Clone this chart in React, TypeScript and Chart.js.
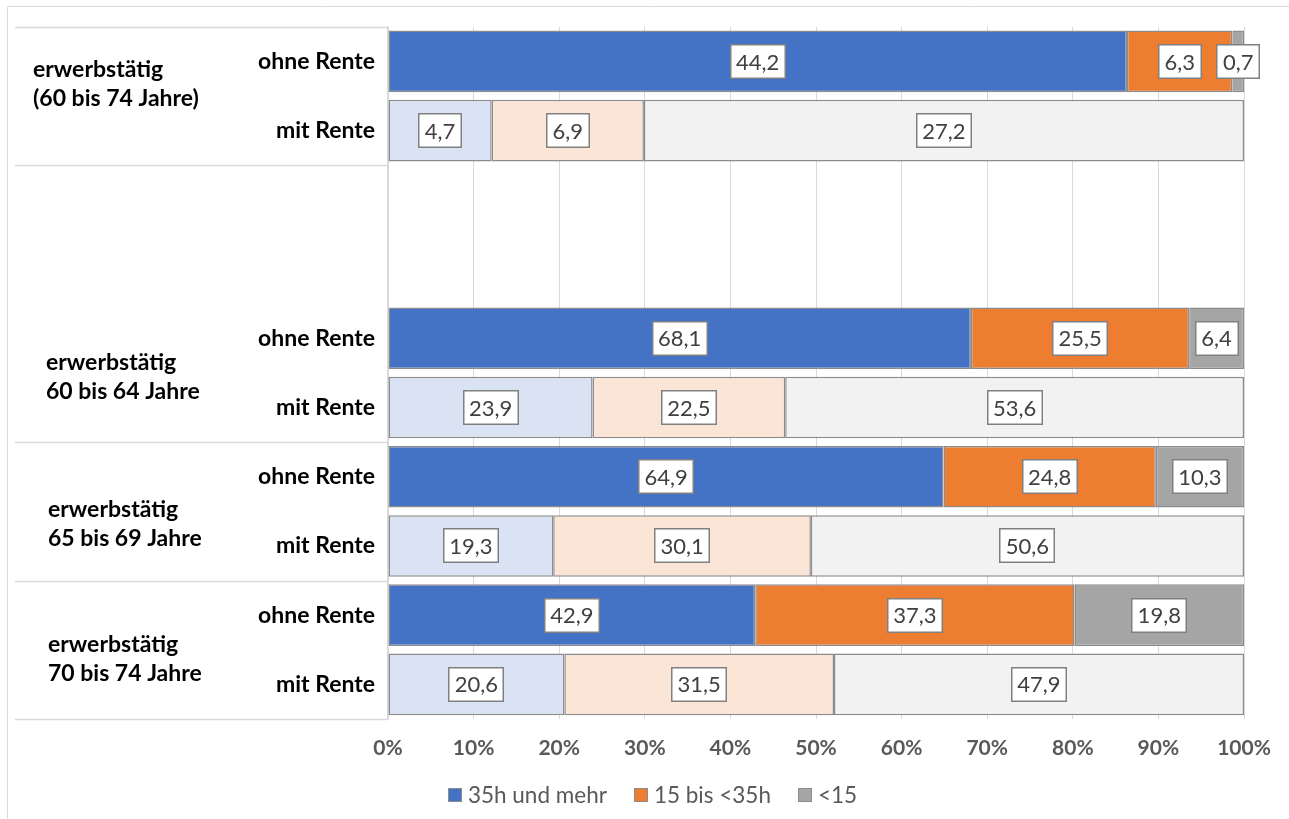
import { useEffect, useRef } from 'react';
import { Chart, registerables } from 'chart.js';

Chart.register(...registerables);

// Rows of the chart, top to bottom (two blank rows keep the gap under the first block)
const rowLabels = ['ohne Rente', 'mit Rente', '', '', 'ohne Rente', 'mit Rente', 'ohne Rente', 'mit Rente', 'ohne Rente', 'mit Rente'];

// Weekly working hours, values per row
const hours35Plus = [44.2, 4.7, null, null, 68.1, 23.9, 64.9, 19.3, 42.9, 20.6];
const hours15to35 = [6.3, 6.9, null, null, 25.5, 22.5, 24.8, 30.1, 37.3, 31.5];
const hoursUnder15 = [0.7, 27.2, null, null, 6.4, 53.6, 10.3, 50.6, 19.8, 47.9];

const seriesNames = ['35h und mehr', '15 bis <35h', '<15'];

// Group captions on the left and the first row each one belongs to
const groupTitles = [
  ['erwerbstätig', '(60 bis 74 Jahre)'],
  ['erwerbstätig', '60 bis 64 Jahre'],
  ['erwerbstätig', '65 bis 69 Jahre'],
  ['erwerbstätig', '70 bis 74 Jahre'],
];
const groupFirstRow = [0, 4, 6, 8];
// Row boundaries where the left caption column gets a divider
const dividerRows = [0, 2, 6, 8, 10];

const darkColors = ['#4472C4', '#ED7D31', '#A5A5A5'];
const lightColors = ['#DAE3F3', '#FBE5D6', '#F2F2F2'];

// Caption placement tweaks (x start, vertical nudge)
const captionX = [33, 46, 48, 48];
const captionDy = [-12, 4, 13, 9];

const FONT = 'Lato, "Open Sans", sans-serif';

export default function App() {
  const canvasRef = useRef<HTMLCanvasElement>(null);

  useEffect(() => {
    let chart: Chart | null = null;
    let cancelled = false;
    const series = [hours35Plus, hours15to35, hoursUnder15];

    const totals = rowLabels.map((_, i) => {
      const vals = series.map((s) => s[i]);
      if (vals.some((v) => v == null)) return null;
      return (vals as number[]).reduce((a, b) => a + b, 0);
    });
    const toShare = (vals: (number | null)[]) =>
      vals.map((v, i) => (v == null || totals[i] == null ? null : (v / (totals[i] as number)) * 100));

    const decorations = {
      id: 'decorations',
      beforeDraw(c: Chart) {
        const ctx = c.ctx;
        ctx.save();
        ctx.strokeStyle = '#d9d9d9';
        ctx.lineWidth = 1;
        ctx.beginPath();
        ctx.moveTo(7.5, 6.5);
        ctx.lineTo(c.width, 6.5);
        ctx.moveTo(7.5, 6.5);
        ctx.lineTo(7.5, c.height);
        ctx.stroke();
        ctx.restore();
      },
      afterDraw(c: Chart) {
        const ctx = c.ctx;
        const y = c.scales.y;
        const left = c.chartArea.left;
        ctx.save();
        // dividers in the caption column
        ctx.strokeStyle = '#d9d9d9';
        ctx.lineWidth = 1.5;
        ctx.beginPath();
        dividerRows.forEach((r) => {
          const py = Math.round(y.getPixelForValue(r - 0.5)) + 0.5;
          ctx.moveTo(15, py);
          ctx.lineTo(left, py);
        });
        ctx.stroke();
        // group captions
        ctx.fillStyle = '#000';
        ctx.font = `bold 23px ${FONT}`;
        ctx.textAlign = 'left';
        ctx.textBaseline = 'middle';
        groupTitles.forEach((lines, g) => {
          const r = groupFirstRow[g];
          const cy = (y.getPixelForValue(r) + y.getPixelForValue(r + 1)) / 2 + captionDy[g];
          ctx.fillText(lines[0], captionX[g], cy - 14.5);
          ctx.fillText(lines[1], captionX[g], cy + 14.5);
        });
        // legend
        ctx.font = `22.5px ${FONT}`;
        const box = 14;
        const gap = 6;
        const spacing = 27;
        const widths = seriesNames.map((n) => ctx.measureText(n).width);
        const total = widths.reduce((a, w) => a + box + gap + w, 0) + spacing * (seriesNames.length - 1);
        let lx = c.width / 2 + 8 - total / 2;
        const ly = 795;
        seriesNames.forEach((n, i) => {
          ctx.fillStyle = darkColors[i];
          ctx.fillRect(Math.round(lx), ly - box / 2, box, box);
          ctx.strokeStyle = '#8c8c8c';
          ctx.lineWidth = 1;
          ctx.strokeRect(Math.round(lx) + 0.5, ly - box / 2 + 0.5, box - 1, box - 1);
          ctx.fillStyle = '#595959';
          ctx.fillText(n, lx + box + gap, ly + 1);
          lx += box + gap + widths[i] + spacing;
        });
        ctx.restore();
      },
      afterDatasetsDraw(c: Chart) {
        const ctx = c.ctx;
        ctx.save();
        ctx.font = `22px ${FONT}`;
        ctx.textAlign = 'center';
        ctx.textBaseline = 'middle';
        c.data.datasets.forEach((_, di) => {
          const meta = c.getDatasetMeta(di);
          meta.data.forEach((el: any, i: number) => {
            const v = series[di][i];
            if (v == null) return;
            const { x, y } = el.getCenterPoint();
            const text = v.toFixed(1).replace('.', ',');
            const w = Math.round(ctx.measureText(text).width + 13);
            const h = 35;
            const bx = Math.round(x - w / 2);
            const by = Math.round(y - h / 2);
            ctx.fillStyle = '#ffffff';
            ctx.fillRect(bx, by, w, h);
            ctx.strokeStyle = '#808080';
            ctx.lineWidth = 1.5;
            ctx.strokeRect(bx + 0.75, by + 0.75, w - 1.5, h - 1.5);
            ctx.fillStyle = '#404040';
            ctx.fillText(text, x, y + 1);
          });
        });
        ctx.restore();
      },
    };

    const create = () => {
      if (cancelled || !canvasRef.current) return;
      chart = new Chart(canvasRef.current, {
        type: 'bar',
        data: {
          labels: rowLabels,
          datasets: series.map((vals, s) => ({
            label: seriesNames[s],
            data: toShare(vals),
            backgroundColor: rowLabels.map((l) => (l === 'mit Rente' ? lightColors[s] : darkColors[s])),
            borderColor: '#8c8c8c',
            borderWidth: 1.5,
            borderSkipped: false,
            barPercentage: 0.89,
            categoryPercentage: 1,
          })),
        },
        options: {
          indexAxis: 'y',
          responsive: true,
          maintainAspectRatio: false,
          animation: false,
          layout: { padding: { top: 24, right: 45, bottom: 50, left: 0 } },
          plugins: { legend: { display: false }, tooltip: { enabled: false } },
          scales: {
            x: {
              stacked: true,
              min: 0,
              max: 100,
              ticks: {
                stepSize: 10,
                callback: (v: any) => `${v}%`,
                color: '#595959',
                font: { family: FONT, size: 21, weight: 'bold' },
                padding: 17,
              },
              grid: { color: '#d9d9d9', lineWidth: 1, drawTicks: false },
              border: { display: false },
              afterFit: (s: any) => {
                s.height = 50;
              },
            },
            y: {
              stacked: true,
              grid: { display: false, drawTicks: false },
              border: { display: true, color: '#d9d9d9', width: 1.5 },
              ticks: {
                autoSkip: false,
                color: '#000',
                font: { family: FONT, size: 23, weight: 'bold' },
                padding: 13,
              },
              afterFit: (s: any) => {
                s.width = 388;
              },
            },
          },
        },
        plugins: [decorations],
      } as any);
    };

    if (document.fonts && document.fonts.load) {
      Promise.all([
        document.fonts.load(`20px Lato`),
        document.fonts.load(`bold 20px Lato`),
      ]).then(create, create);
    } else {
      create();
    }

    return () => {
      cancelled = true;
      if (chart) chart.destroy();
    };
  }, []);

  return (
    <div style={{ position: 'fixed', left: 0, top: 0, width: '100vw', height: '100vh', background: '#fff' }}>
      <canvas ref={canvasRef} />
    </div>
  );
}
